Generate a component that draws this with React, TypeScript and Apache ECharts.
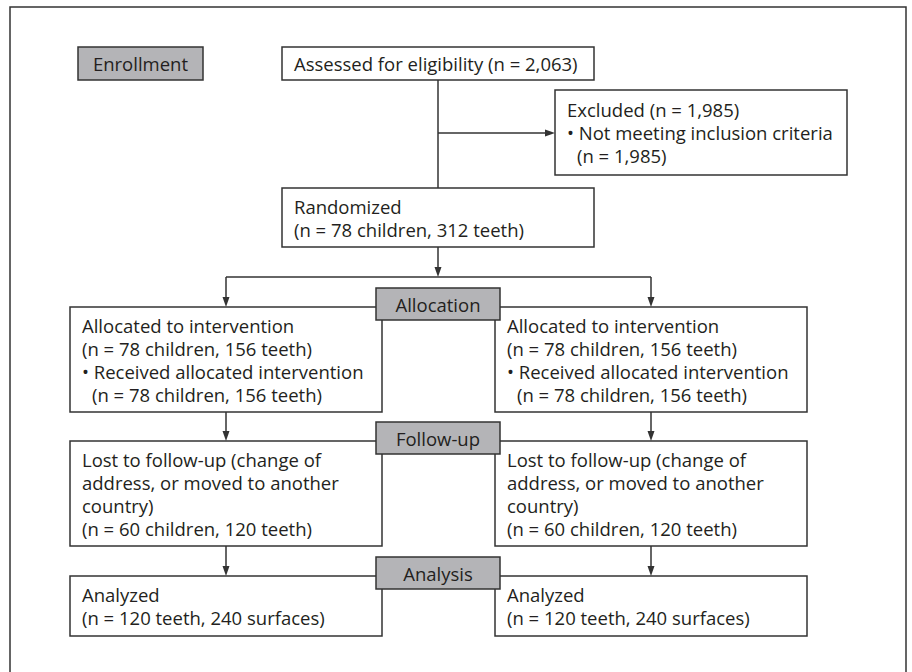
import React, { useEffect, useRef } from "react";
import * as echarts from "echarts";

// ---- content (texts of the flow diagram) ----
const enrollmentLabel = "Enrollment";
const stageLabels = ["Allocation", "Follow-up", "Analysis"];
const assessedLines = ["Assessed for eligibility (n = 2,063)"];
const excludedLines = ["Excluded (n = 1,985)", "• Not meeting inclusion criteria", "(n = 1,985)"];
const excludedIndent = [false, false, true];
const randomizedLines = ["Randomized", "(n = 78 children, 312 teeth)"];
const allocatedLines = [
  "Allocated to intervention",
  "(n = 78 children, 156 teeth)",
  "• Received allocated intervention",
  "(n = 78 children, 156 teeth)",
];
const allocatedIndent = [false, false, false, true];
const lostLines = [
  "Lost to follow-up (change of",
  "address, or moved to another",
  "country)",
  "(n = 60 children, 120 teeth)",
];
const analyzedLines = ["Analyzed", "(n = 120 teeth, 240 surfaces)"];

const FONT = '18.5px "Open Sans"';
const TEXT = "#231f20";
const LINE = "#333333";
const GRAY = "#b4b4b7";
const LW = 1.5;

export default function App() {
  const ref = useRef<HTMLDivElement>(null);
  useEffect(() => {
    document.body.style.margin = "0";
    if (!ref.current) return;
    const chart = echarts.init(ref.current, null, { renderer: "svg" });
    const els: any[] = [];

    const rect = (x: number, y: number, w: number, h: number, fill: string) =>
      els.push({
        type: "rect",
        shape: { x, y, width: w, height: h },
        style: { fill, stroke: LINE, lineWidth: LW },
      });
    const line = (x1: number, y1: number, x2: number, y2: number) =>
      els.push({
        type: "line",
        shape: { x1, y1, x2, y2 },
        style: { stroke: LINE, lineWidth: LW },
      });
    const arrowDown = (x: number, y1: number, y2: number) => {
      line(x, y1, x, y2 - 8);
      els.push({
        type: "polygon",
        shape: { points: [[x - 3.5, y2 - 10], [x + 3.5, y2 - 10], [x, y2]] },
        style: { fill: LINE },
      });
    };
    const arrowRight = (x1: number, x2: number, y: number) => {
      line(x1, y, x2 - 8, y);
      els.push({
        type: "polygon",
        shape: { points: [[x2 - 10, y - 3.5], [x2 - 10, y + 3.5], [x2, y]] },
        style: { fill: LINE },
      });
    };
    const text = (x: number, y: number, t: string, align = "left") =>
      els.push({
        type: "text",
        style: { x, y, text: t, font: FONT, fill: TEXT, textAlign: align, textVerticalAlign: "middle" },
      });
    const textBox = (
      x: number, y: number, w: number, h: number, lines: string[], indent?: boolean[]
    ) => {
      rect(x, y, w, h, "#ffffff");
      const n = lines.length;
      const y0 = y + h / 2 - ((n - 1) * 23) / 2;
      lines.forEach((t, i) => text(x + 12 + (indent && indent[i] ? 10 : 0), y0 + i * 23, t));
    };
    const label = (cx: number, y: number, w: number, h: number, t: string) => {
      rect(cx - w / 2, y, w, h, GRAY);
      text(cx, y + h / 2, t, "center");
    };

    // outer frame
    rect(10, 7, 896, 720, "#ffffff");

    const cx = 438;
    const lx = 226;
    const rx = 651;

    // connectors
    line(cx, 80, cx, 188);
    arrowRight(cx, 555, 133);
    arrowDown(cx, 247, 277);
    line(lx, 277, rx, 277);
    arrowDown(lx, 277, 307);
    arrowDown(rx, 277, 307);
    arrowDown(lx, 412, 441);
    arrowDown(rx, 412, 441);
    arrowDown(lx, 546, 576);
    arrowDown(rx, 546, 576);

    // enrollment
    label(140.5, 47, 125, 33, enrollmentLabel);
    textBox(282, 47, 312, 33, assessedLines);
    textBox(555, 90, 292, 85, excludedLines, excludedIndent);
    textBox(282, 188, 312, 59, randomizedLines);

    // arms
    const boxW = 312;
    const tops = [307, 441, 576];
    const heights = [105, 105, 60];
    const contents = [allocatedLines, lostLines, analyzedLines];
    const indents = [allocatedIndent, undefined, undefined];
    [lx, rx].forEach((c) => {
      tops.forEach((t, i) => textBox(c - boxW / 2, t, boxW, heights[i], contents[i], indents[i]));
    });
    tops.forEach((t, i) => label(cx, t - 19, 124, 32, stageLabels[i]));

    chart.setOption({ animation: false, graphic: { elements: els } });
    return () => chart.dispose();
  }, []);
  return <div ref={ref} style={{ width: 912, height: 672 }} />;
}
